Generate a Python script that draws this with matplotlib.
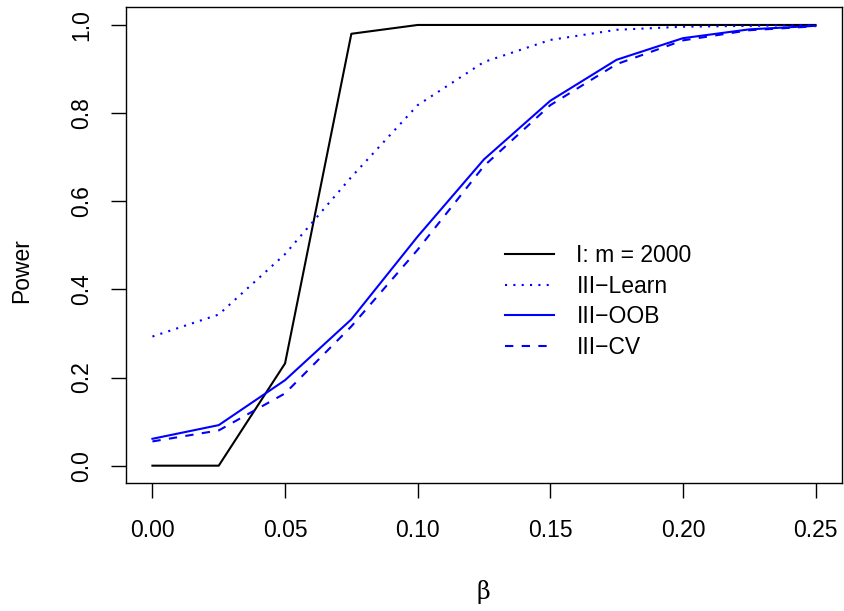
import numpy as np
import matplotlib.pyplot as plt

plt.rcParams["font.family"] = ["Liberation Sans", "DejaVu Sans"]

# effect size grid and estimated power
beta = [0.0, 0.025, 0.05, 0.075, 0.1, 0.125, 0.15, 0.175, 0.2, 0.225, 0.25]
power_m2000 = [0.0, 0.0, 0.232, 0.98, 1.0, 1.0, 1.0, 1.0, 1.0, 1.0, 1.0]
power_learn = [0.293, 0.343, 0.48, 0.655, 0.818, 0.916, 0.966, 0.989, 0.996, 0.998, 1.0]
power_oob = [0.061, 0.092, 0.194, 0.332, 0.52, 0.695, 0.828, 0.921, 0.97, 0.99, 0.998]
power_cv = [0.055, 0.080, 0.164, 0.316, 0.49, 0.68, 0.818, 0.911, 0.965, 0.988, 0.997]

labels = ["I: m = 2000", "III\u2212Learn", "III\u2212OOB", "III\u2212CV"]

fig = plt.figure(figsize=(8.45, 6.11), dpi=100)
ax = fig.add_axes([0.149, 0.209, 0.8475, 0.779])

lw = 1.5
ax.plot(beta, power_m2000, color="black", lw=lw, label=labels[0])
ax.plot(beta, power_learn, color="blue", lw=lw, dashes=(1, 3), label=labels[1])
ax.plot(beta, power_oob, color="blue", lw=lw, label=labels[2])
ax.plot(beta, power_cv, color="blue", lw=lw, dashes=(4, 4), label=labels[3])

ax.set_xlim(-0.01, 0.26)
ax.set_ylim(-0.04, 1.04)
ax.set_xticks([0.0, 0.05, 0.10, 0.15, 0.20, 0.25])
ax.set_xticklabels(["0.00", "0.05", "0.10", "0.15", "0.20", "0.25"])
ax.set_yticks([0.0, 0.2, 0.4, 0.6, 0.8, 1.0])
ax.set_yticklabels(["0.0", "0.2", "0.4", "0.6", "0.8", "1.0"], rotation=90, va="center")

fs = 16.5
ax.tick_params(axis="both", length=10.8, width=1.0, labelsize=fs, direction="out")
ax.tick_params(axis="x", pad=15)
ax.tick_params(axis="y", pad=13)
for s in ax.spines.values():
    s.set_linewidth(1.0)

fig.text(483 / 845, 1 - 592 / 611, "\u03b2", fontsize=17, family="DejaVu Serif",
         ha="center", va="center")
fig.text(22 / 845, 1 - 271 / 611, "Power", fontsize=fs, rotation=90,
         ha="center", va="center")

leg = ax.legend(loc="upper left", bbox_to_anchor=(0.530, 0.502), frameon=False,
                fontsize=fs, handlelength=2.1, handletextpad=1.0,
                labelspacing=0.33, borderpad=0, borderaxespad=0)

fig.savefig("out.png", dpi=100)
